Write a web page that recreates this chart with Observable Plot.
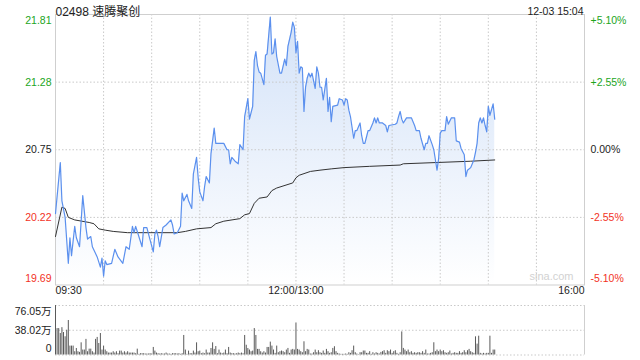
<!DOCTYPE html>
<html><head><meta charset="utf-8">
<script src="https://cdn.jsdelivr.net/npm/d3@7"></script>
<script src="https://cdn.jsdelivr.net/npm/@observablehq/plot@0.6"></script>
<style>
html,body{margin:0;padding:0;background:#fff;}
#chart{width:640px;height:360px;position:relative;font-family:"Liberation Sans",Arial,"Noto Sans CJK SC",sans-serif;}
#chart svg{display:block;}
</style></head><body><div id="chart"></div>
<script>
// ---------- data ----------
const title = "02498 速腾聚创";
const stamp = "12-03 15:04";
const watermark = "sina.com";
const prevClose = 20.75;
const priceTicks = [21.81, 21.28, 20.75, 20.22, 19.69];
const priceTickLabels = ["21.81", "21.28", "20.75", "20.22", "19.69"];
const pctTickLabels = ["+5.10%", "+2.55%", "0.00%", "-2.55%", "-5.10%"];
const timeTicks = [0, 30, 60, 90, 120, 150, 180, 210, 240, 270, 300, 330];
const timeLabelMinutes = [0, 150, 330];
const timeLabels = ["09:30", "12:00/13:00", "16:00"];

// minutes since 09:30 (trading minutes, lunch removed) and last price
const priceMinutes = [0,3,4,6,8,9,10,12,13,15,17,19,20,22,23,26,28,29,30,31,32,35,37,39,42,44,46,48,49,50,52,54,55,57,58,61,62,63,64,65,67,69,72,73,74,76,78,79,80,82,83,85,86,88,89,90,92,93,94,96,97,99,100,105,107,108,109,110,112,114,115,117,118,120,121,123,124,125,126,127,128,130,131,132,134,135,136,137,138,140,141,143,144,145,147,148,149,150,151,152,153,154,155,156,157,158,159,160,162,163,164,165,166,167,169,170,171,172,173,176,177,179,180,181,182,183,184,186,187,188,190,191,192,193,194,195,196,198,199,200,201,202,204,206,207,208,212,213,214,215,216,217,219,222,224,225,227,228,230,231,232,233,235,236,238,239,240,241,243,244,245,247,249,250,252,253,255,256,257,259,261,262,263,264,265,266,267,268,269,270,271,273,274];
const prices = [20.25,20.65,20.35,20.22,19.86,20.06,19.92,20.15,20.06,19.99,20.39,20.14,20.05,20.07,19.99,19.91,19.83,19.90,19.76,19.88,19.85,19.86,19.97,19.91,19.86,19.99,19.97,20.15,20.10,20.15,20.07,19.99,20.14,20.14,20.09,19.95,20.09,20.12,20.07,19.99,20.14,20.16,20.20,20.16,20.09,20.10,20.15,20.41,20.35,20.40,20.35,20.29,20.56,20.69,20.53,20.42,20.35,20.46,20.54,20.49,20.72,20.92,20.80,20.80,20.75,20.75,20.64,20.69,20.66,20.64,20.79,20.75,21.01,21.15,20.99,21.09,21.45,21.52,21.41,21.36,21.35,21.26,21.49,21.50,21.79,21.50,21.51,21.62,21.48,21.35,21.35,21.46,21.41,21.56,21.67,21.75,21.71,21.51,21.60,21.35,21.40,21.39,21.05,21.24,21.31,21.35,21.32,21.35,21.23,21.40,21.35,21.24,21.24,21.14,21.31,21.05,21.16,20.97,21.09,21.10,21.15,21.14,21.10,21.15,21.14,21.06,21.01,20.84,20.90,20.90,20.96,20.86,20.80,20.80,20.85,20.90,20.90,20.96,21.00,20.96,21.00,20.96,20.96,20.94,20.89,20.94,20.95,20.96,21.01,21.05,20.99,20.96,21.00,21.00,20.94,20.90,20.90,20.84,20.75,20.80,20.80,20.86,20.79,20.75,20.59,20.68,20.88,20.90,20.90,21.01,20.95,21.00,21.00,20.82,20.81,20.76,20.71,20.54,20.59,20.61,20.67,20.73,20.80,20.96,21.00,20.96,21.00,20.94,20.89,21.09,21.02,21.11,20.99];

// average price line
const avgMinutes = [0,4,6,8,12,21,24,27,31,36,45,59,76,81,88,97,100,105,115,118,121,124,127,132,135,138,148,150,152,159,165,172,180,196,215,217,238,259,274];
const avgPrices = [20.07,20.30,20.29,20.22,20.20,20.18,20.17,20.13,20.12,20.11,20.10,20.10,20.10,20.11,20.13,20.14,20.17,20.19,20.21,20.24,20.25,20.33,20.37,20.38,20.43,20.45,20.49,20.53,20.55,20.58,20.59,20.60,20.61,20.62,20.63,20.64,20.65,20.66,20.67];

// volume per minute (万股), minute 0..274
const volumes = [
  76,40.6,40.6,33,42,34.5,28,38,53,
  13.7,13.7,13.7,5,10,5,
  4,
  18.7,7.6,7.6,24,5,9,9,5,
  3,
  24,27,17.7,33,7.6,13.7,7.6,5,3,3,3,5,3,5,2,6,6,3,5,3,5,3,3,3,
  3,2,
  9,1,2,2,2,1.5,1.5,1.5,
  2,1.5,
  11.6,6,3,2,1.5,2,1.5,1.5,3,1.5,1.5,1,2,2,2,
  1.5,2,1,2,
  30,7.6,1,6,2,2,6,3,18.7,5,6,2,3,2,7.6,3,3,10,18.7,
  8.6,13,2,7.6,3,2,3,7.6,
  2,
  11.6,3,2,2,1.5,2,3,2,3,2,30,15,10,7.6,5,6,40.6,
  30,8.6,8.6,5,
  3,
  5,3,11.6,11.6,19.8,
  13.7,7.6,2.5,13.7,3.5,5.1,6.1,5.1,3.5,7.6,10.1,2.5,7.6,8.6,7.6,49.2,8.6,7.6,5.1,3.5,20.3,
  5.1,8.6,7.6,1.5,1.5,3.5,7.6,3.5,6.6,3.5,2.5,6.1,2.5,8.6,5.1,
  2.5,3.5,
  10.1,12.7,5.1,2.5,1.5,1,1,1,1.5,1,3.5,2.5,6.6,
  13.7,
  3.5,1.5,0.5,3.5,3.5,6.1,6.1,2.5,2.5,5.1,1,3.5,1.5,3.5,
  2.5,
  1.5,4,5.1,6.6,2.5,6.6,5.1,7.6,2.5,5.1,6.6,2.5,1,3.5,
  35.5,
  10.1,7.6,5.1,7.6,3.5,5.1,2.5,3.5,2.5,
  3.5,
  3.5,2.5,5.1,2.5,7.6,1.5,1.5,2.5,3.5,
  18.8,
  5.1,7.6,5.1,7.6,5.1,6.6,3.5,2.5,3.5,6.1,1.5,2.5,3.5,
  2.5,
  2.5,5.1,2.5,3.5,6.6,3.5,6.6,8.6,5.1,3.5,2.5,
  27.9,16.7,28.9,
  2.5,1.5,2.5,1.5,2.5,2.5,
  28.9,
  2.5,7.6,7.6
];
const volTicks = [76.05, 38.02, 0];
const volTickLabels = ["76.05万", "38.02万", "0"];

// ---------- styling ----------
const W = 640, ML = 55, MR = 56;
const GREEN = "#1ca51c", RED = "#f2321e", DARK = "#222";
const GRID = "#c9c9c9", BORDER = "#cfcfcf";
const LINE = "#5b90ee", AVG = "#333";
const FONT = '"Liberation Sans", Arial, "Noto Sans CJK SC", sans-serif';
const FS = 10.5;

const priceData = priceMinutes.map((m, i) => ({m, p: prices[i]}));
const avgData = avgMinutes.map((m, i) => ({m, p: avgPrices[i]}));
const volData = volumes.map((v, i) => ({m: i, v}));
const yDomain = [d3.min(priceTicks), d3.max(priceTicks)];
const nT = priceTicks.length;
const colorOf = v => v > prevClose + 1e-9 ? GREEN : v < prevClose - 1e-9 ? RED : DARK;
const edgeDy = (i, n, off) => i === 0 ? off : i === n - 1 ? -off : 0;
const tickData = priceTicks.map((v, i) => ({v, i, label: priceTickLabels[i], pct: pctTickLabels[i]}));
const innerTimes = timeTicks.slice(1, -1);
const innerPrice = priceTicks.slice(1, -1);
const timeAnchors = ["start", "middle", "end"];

const priceChart = Plot.plot({
  width: W, height: 300,
  marginLeft: ML, marginRight: MR, marginTop: 14, marginBottom: 15.5,
  style: {fontFamily: FONT, background: "#fff", overflow: "visible"},
  x: {domain: [timeTicks[0], timeTicks[timeTicks.length - 1]], axis: null},
  y: {domain: yDomain, axis: null},
  marks: [
    Plot.areaY(priceData, {x: "m", y1: yDomain[0], y2: "p", fill: "url(#pgrad)"}),
    Plot.ruleY(innerPrice, {stroke: GRID, strokeDasharray: "1.5,2"}),
    Plot.ruleX(innerTimes, {stroke: GRID, strokeDasharray: "1.5,2"}),
    Plot.frame({stroke: BORDER}),
    Plot.line(avgData, {x: "m", y: "p", stroke: AVG, strokeWidth: 1}),
    Plot.line(priceData, {x: "m", y: "p", stroke: LINE, strokeWidth: 1.2}),
    ...tickData.map(d => Plot.text([d], {y: "v", text: "label", frameAnchor: "left", dx: -4, textAnchor: "end",
      dy: edgeDy(d.i, nT, 6), fill: colorOf(d.v), fontSize: FS})),
    ...tickData.map(d => Plot.text([d], {y: "v", text: "pct", frameAnchor: "right", dx: 6, textAnchor: "start",
      dy: edgeDy(d.i, nT, 6), fill: colorOf(d.v), fontSize: FS})),
    ...timeLabelMinutes.map((m, i) => Plot.text([{m, t: timeLabels[i]}], {x: "m", text: "t", frameAnchor: "bottom",
      dy: 9, textAnchor: timeAnchors[i], fill: DARK, fontSize: FS})),
    Plot.text([title], {frameAnchor: "top-left", dy: -7, textAnchor: "start", fill: DARK, fontSize: 12}),
    Plot.text([stamp], {frameAnchor: "top-right", dy: -7, dx: -1, textAnchor: "end", fill: DARK, fontSize: FS}),
    Plot.text([watermark], {frameAnchor: "bottom-right", dx: -11, dy: -5, textAnchor: "end", fill: "#d2d2d2", fontSize: 11})
  ]
});

// gradient for the area fill
const defs = d3.select(priceChart).insert("defs", ":first-child");
const grad = defs.append("linearGradient").attr("id", "pgrad").attr("x1", 0).attr("y1", 0).attr("x2", 0).attr("y2", 1);
grad.append("stop").attr("offset", "0%").attr("stop-color", "#d3e2f8");
grad.append("stop").attr("offset", "100%").attr("stop-color", "#ffffff");

const nV = volTicks.length;
const volChart = Plot.plot({
  width: W, height: 60,
  marginLeft: ML, marginRight: MR, marginTop: 5, marginBottom: 5.5,
  style: {fontFamily: FONT, background: "#fff", overflow: "visible"},
  x: {domain: [timeTicks[0], timeTicks[timeTicks.length - 1]], axis: null},
  y: {domain: [0, d3.max(volTicks)], axis: null},
  marks: [
    Plot.ruleY(volTicks, {stroke: GRID, strokeDasharray: "1.5,2"}),
    Plot.ruleX([timeTicks[timeTicks.length - 1]], {stroke: BORDER}),
    Plot.ruleX(volData, {x: "m", y1: 0, y2: "v", stroke: "#5a5a5a", strokeWidth: 1}),
    ...volTicks.map((v, i) => Plot.text([{v, t: volTickLabels[i]}], {y: "v", text: "t", frameAnchor: "left", dx: -4,
      textAnchor: "end", dy: edgeDy(i, nV, 6.5), fill: DARK, fontSize: FS}))
  ]
});

const root = document.getElementById("chart");
root.appendChild(priceChart);
root.appendChild(volChart);
</script>
</body></html>
